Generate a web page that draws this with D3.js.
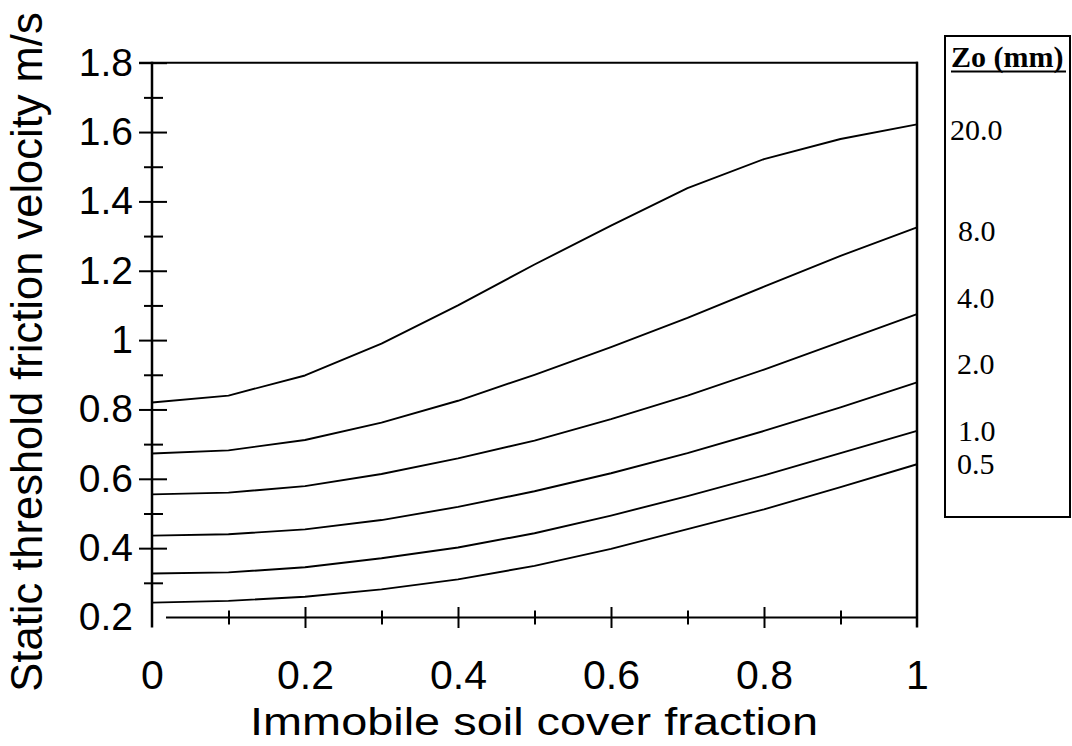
<!DOCTYPE html>
<html>
<head>
<meta charset="utf-8">
<script src="https://cdn.jsdelivr.net/npm/d3@7"></script>
<style>
  html, body { margin: 0; padding: 0; background: #fff; }
</style>
</head>
<body>
<div id="chart"></div>
<script>
// Static threshold friction velocity vs immobile soil cover fraction

const coverFraction = [0, 0.1, 0.2, 0.3, 0.4, 0.5, 0.6, 0.7, 0.8, 0.9, 1.0];

const zo20 = [0.82, 0.84, 0.898, 0.99, 1.1, 1.218, 1.33, 1.438, 1.522, 1.58, 1.622];
const zo8  = [0.673, 0.682, 0.712, 0.762, 0.825, 0.9, 0.98, 1.064, 1.154, 1.243, 1.325];
const zo4  = [0.555, 0.56, 0.579, 0.614, 0.659, 0.71, 0.772, 0.84, 0.915, 0.995, 1.075];
const zo2  = [0.436, 0.44, 0.454, 0.481, 0.519, 0.564, 0.616, 0.674, 0.738, 0.806, 0.878];
const zo1  = [0.327, 0.33, 0.345, 0.371, 0.402, 0.443, 0.494, 0.55, 0.61, 0.674, 0.738];
const zo05 = [0.243, 0.248, 0.26, 0.281, 0.31, 0.349, 0.398, 0.455, 0.512, 0.576, 0.642];

const seriesValues = [zo20, zo8, zo4, zo2, zo1, zo05];
const legendLabels = ["20.0", "8.0", "4.0", "2.0", "1.0", "0.5"];
const legendTitle = "Zo (mm)";

const xMajorTicks = [0, 0.2, 0.4, 0.6, 0.8, 1.0];
const xMinorTicks = [0.1, 0.3, 0.5, 0.7, 0.9];
const yLabelTicks = [0.2, 0.4, 0.6, 0.8, 1.0, 1.2, 1.4, 1.6, 1.8];
const yMajorTicks = [0.4, 0.6, 0.8, 1.0, 1.2, 1.4, 1.6, 1.8];
const yMinorTicks = [0.3, 0.5, 0.7, 0.9, 1.1, 1.3, 1.5, 1.7];

const xTitle = "Immobile soil cover fraction";
const yTitle = "Static threshold friction velocity m/s";

// legend text placement (layout only)
const legendX = [950, 958, 957, 957, 958, 957];
const legendBaseline = [139.5, 241, 307.5, 374, 441, 474];

function main() {
  const width = 1072;
  const height = 746;
  const left = 152, right = 917, top = 62.7, bottom = 617.5;

  const svg = d3.select("#chart").append("svg")
    .attr("width", width)
    .attr("height", height)
    .attr("viewBox", `0 0 ${width} ${height}`)
    .style("display", "block");

  const x = d3.scaleLinear().domain([0, 1]).range([left, right]);
  const y = d3.scaleLinear().domain([0.2, 1.8]).range([bottom, top]);

  const fmt = d => String(+d.toFixed(1));
  const sans = "'Liberation Sans', Arial, sans-serif";
  const serif = "'Liberation Serif', 'Times New Roman', serif";

  // Axe Y : étiquettes + graduations
  const yAxisLabels = svg.append("g")
    .attr("transform", `translate(${left},0)`)
    .call(d3.axisLeft(y).tickValues(yLabelTicks).tickSize(0).tickPadding(19).tickFormat(fmt));
  yAxisLabels.select(".domain").remove();
  yAxisLabels.selectAll("text")
    .attr("font-family", sans).attr("font-size", 39).attr("fill", "#000");

  svg.append("g")
    .attr("transform", `translate(${left},0)`)
    .call(d3.axisLeft(y).tickValues(yMajorTicks).tickSize(13).tickFormat(""))
    .call(g => g.select(".domain").remove());
  svg.append("g")
    .attr("transform", `translate(${left},0)`)
    .call(d3.axisRight(y).tickValues(yMajorTicks).tickSize(15).tickFormat(""))
    .call(g => g.select(".domain").remove());
  svg.append("g")
    .attr("transform", `translate(${left},0)`)
    .call(d3.axisLeft(y).tickValues(yMinorTicks).tickSize(8).tickFormat(""))
    .call(g => g.select(".domain").remove());
  svg.append("g")
    .attr("transform", `translate(${left},0)`)
    .call(d3.axisRight(y).tickValues(yMinorTicks).tickSize(11).tickFormat(""))
    .call(g => g.select(".domain").remove());

  // Axe X
  const xAxisLabels = svg.append("g")
    .attr("transform", `translate(0,${bottom})`)
    .call(d3.axisBottom(x).tickValues(xMajorTicks).tickSize(0).tickPadding(42).tickFormat(fmt));
  xAxisLabels.select(".domain").remove();
  xAxisLabels.selectAll("text")
    .attr("font-family", sans).attr("font-size", 41).attr("fill", "#000");

  const xInner = xMajorTicks.filter(d => d > 0 && d < 1);
  svg.append("g")
    .attr("transform", `translate(0,${bottom})`)
    .call(d3.axisBottom(x).tickValues(xInner).tickSize(10.5).tickFormat(""))
    .call(g => g.select(".domain").remove());
  svg.append("g")
    .attr("transform", `translate(0,${bottom})`)
    .call(d3.axisTop(x).tickValues(xInner).tickSize(10.5).tickFormat(""))
    .call(g => g.select(".domain").remove());
  svg.append("g")
    .attr("transform", `translate(0,${bottom})`)
    .call(d3.axisBottom(x).tickValues(xMinorTicks).tickSize(7).tickFormat(""))
    .call(g => g.select(".domain").remove());
  svg.append("g")
    .attr("transform", `translate(0,${bottom})`)
    .call(d3.axisTop(x).tickValues(xMinorTicks).tickSize(7).tickFormat(""))
    .call(g => g.select(".domain").remove());

  svg.selectAll(".tick line").attr("stroke", "#000").attr("stroke-width", 2);

  // Cadre
  const frame = svg.append("g").attr("stroke", "#000").attr("fill", "none");
  frame.append("line")
    .attr("x1", left).attr("x2", left).attr("y1", top - 1).attr("y2", bottom + 10)
    .attr("stroke-width", 2.5);
  frame.append("line")
    .attr("x1", left - 13).attr("x2", right + 1).attr("y1", top).attr("y2", top)
    .attr("stroke-width", 2);
  frame.append("line")
    .attr("x1", right).attr("x2", right).attr("y1", top - 1).attr("y2", bottom + 10)
    .attr("stroke-width", 2.5);
  frame.append("line")
    .attr("x1", left + 14).attr("x2", right).attr("y1", bottom).attr("y2", bottom)
    .attr("stroke-width", 2);

  // Courbes
  const line = d3.line()
    .x((d, i) => x(coverFraction[i]))
    .y(d => y(d));

  seriesValues.forEach(values => {
    svg.append("path")
      .attr("d", line(values))
      .attr("fill", "none")
      .attr("stroke", "#000")
      .attr("stroke-width", 1.9)
      .attr("stroke-linejoin", "round");
  });

  // Titres des axes
  svg.append("text")
    .attr("x", (left + right) / 2 - 0.5)
    .attr("y", 735)
    .attr("text-anchor", "middle")
    .attr("font-family", sans)
    .attr("font-size", 38)
    .attr("textLength", 568)
    .attr("lengthAdjust", "spacingAndGlyphs")
    .text(xTitle);

  svg.append("text")
    .attr("transform", "translate(42,352) rotate(-90)")
    .attr("text-anchor", "middle")
    .attr("font-family", sans)
    .attr("font-size", 43.5)
    .text(yTitle);

  // Légende
  const legend = svg.append("g");
  legend.append("rect")
    .attr("x", 945).attr("y", 36)
    .attr("width", 125).attr("height", 481)
    .attr("fill", "none").attr("stroke", "#000").attr("stroke-width", 2);
  legend.append("text")
    .attr("x", 951).attr("y", 67)
    .attr("font-family", serif)
    .attr("font-weight", "bold")
    .attr("font-size", 30)
    .text(legendTitle);
  legend.append("line")
    .attr("x1", 951).attr("x2", 1066).attr("y1", 71.5).attr("y2", 71.5)
    .attr("stroke", "#000").attr("stroke-width", 2);

  legendLabels.forEach((label, i) => {
    legend.append("text")
      .attr("x", legendX[i])
      .attr("y", legendBaseline[i])
      .attr("font-family", serif)
      .attr("font-size", 30)
      .text(label);
  });
}

main();
</script>
</body>
</html>
